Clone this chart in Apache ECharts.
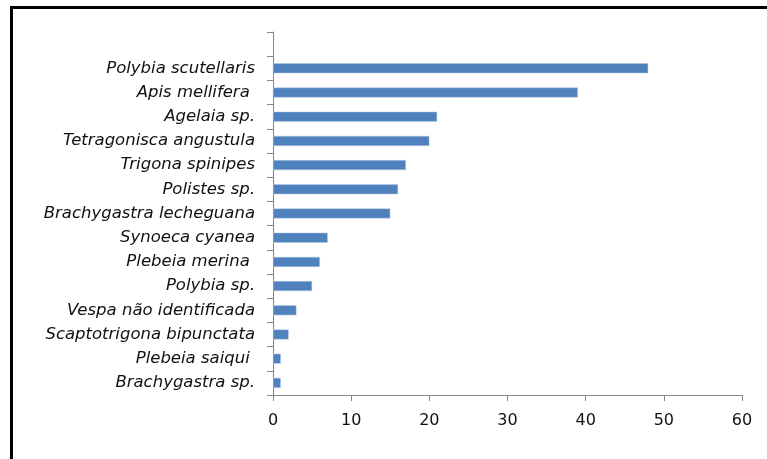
<!DOCTYPE html>
<html>
<head>
<meta charset="utf-8">
<script src="https://cdn.jsdelivr.net/npm/echarts@6/dist/echarts.min.js"></script>
<style>
  html, body { margin: 0; padding: 0; background: #fff; }
  #chart { width: 767px; height: 459px; }
</style>
</head>
<body>
<div id="chart"></div>
<script>
// species, listed bottom to top (the top slot stays empty as in the original)
var species = ['Brachygastra sp.', 'Plebeia saiqui ', 'Scaptotrigona bipunctata', 'Vespa não identificada',
               'Polybia sp.', 'Plebeia merina ', 'Synoeca cyanea', 'Brachygastra lecheguana',
               'Polistes sp.', 'Trigona spinipes', 'Tetragonisca angustula', 'Agelaia sp.',
               'Apis mellifera ', 'Polybia scutellaris', ''];
var counts = [1, 1, 2, 3, 5, 6, 7, 15, 16, 17, 20, 21, 39, 48, null];
var xTicks = [0, 60, 10];   // min, max, interval

var chart = echarts.init(document.getElementById('chart'));
var option = {
    animation: false,
    backgroundColor: '#fff',
    grid: { left: 273, right: 25, top: 32, bottom: 64 },
    xAxis: {
        type: 'value',
        min: xTicks[0],
        max: xTicks[1],
        interval: xTicks[2],
        axisLine: { show: true, lineStyle: { color: '#868686', width: 1 } },
        axisTick: { show: true, length: 6, lineStyle: { color: '#868686' } },
        splitLine: { show: false },
        axisLabel: { color: '#111', fontSize: 16, fontFamily: 'DejaVu Sans', margin: 18 }
    },
    yAxis: {
        type: 'category',
        data: species,
        axisLine: { show: true, lineStyle: { color: '#868686', width: 1 } },
        axisTick: { show: true, length: 6, alignWithLabel: false, lineStyle: { color: '#868686' } },
        axisLabel: { color: '#111', fontSize: 16.5, fontStyle: 'italic', fontFamily: 'DejaVu Sans', margin: 18 },
        splitLine: { show: false }
    },
    series: [{
        type: 'bar',
        data: counts,
        barWidth: 10,
        itemStyle: { color: '#4f81bd', borderColor: '#b9cde5', borderWidth: 0.5 }
    }],
    graphic: [{
        type: 'rect',
        shape: { x: 11.5, y: 7.5, width: 800, height: 500 },
        style: { fill: null, stroke: '#000', lineWidth: 3 },
        silent: true
    }]
};
chart.setOption(option);
</script>
</body>
</html>
